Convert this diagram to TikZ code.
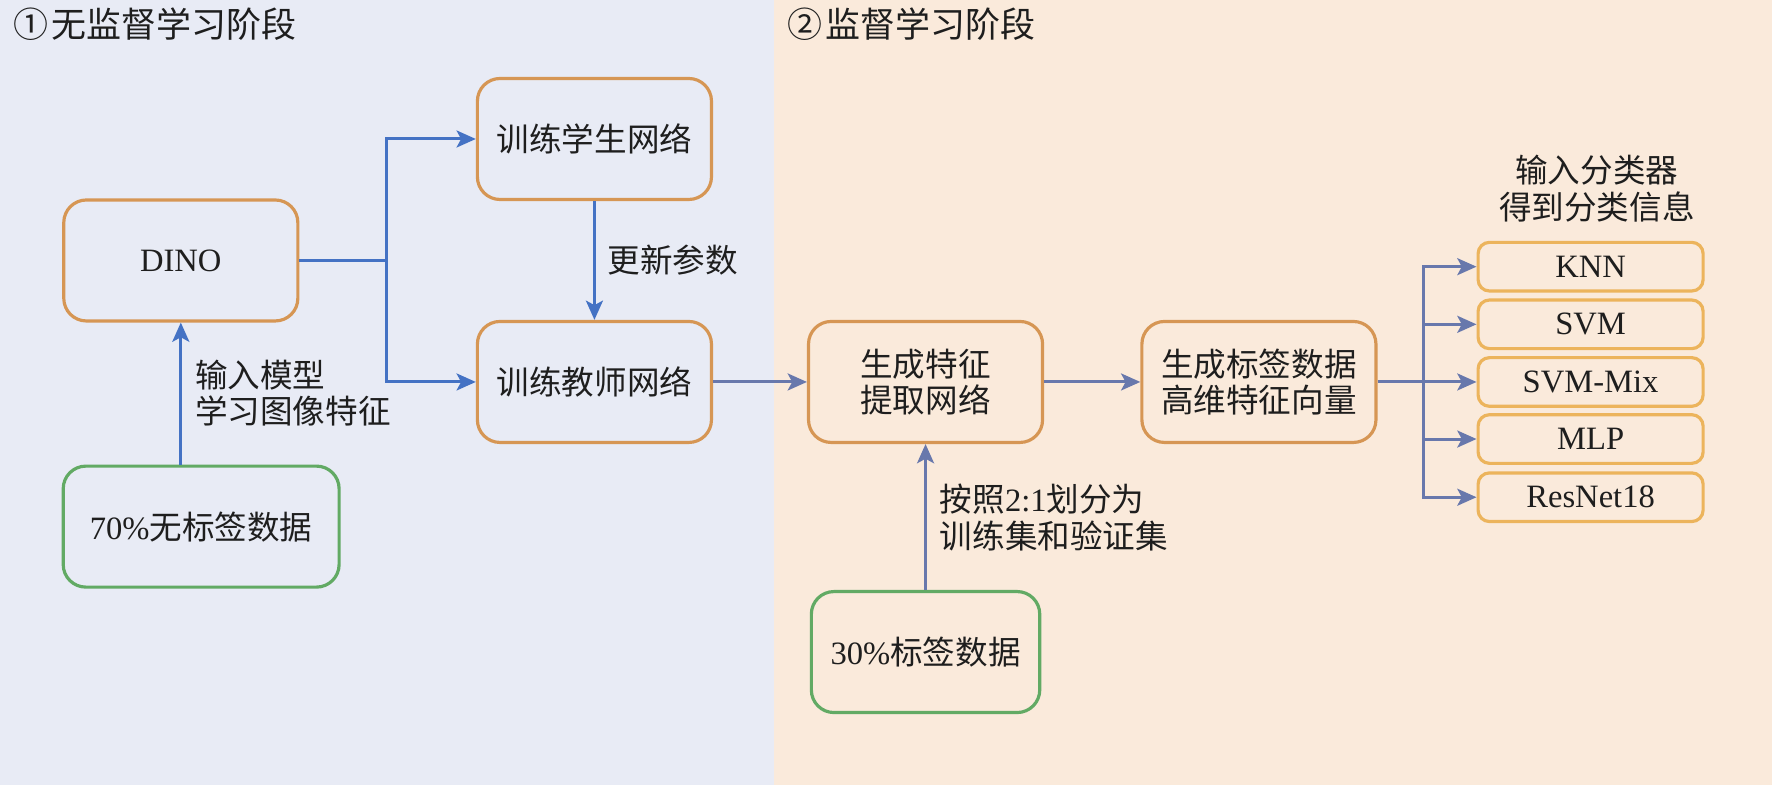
\documentclass[tikz,border=0pt]{standalone}
\usepackage{fontspec}
\usepackage{tikz}
\usetikzlibrary{arrows.meta}
\setmainfont{Liberation Serif}
\newfontfamily\cjk{Noto Sans CJK SC}
\newcommand{\zh}[1]{{\cjk #1}}

\definecolor{leftbg}{RGB}{232,235,245}
\definecolor{rightbg}{RGB}{250,234,219}
\definecolor{boxorange}{RGB}{214,150,84}
\definecolor{boxyellow}{RGB}{236,180,92}
\definecolor{boxgreen}{RGB}{98,170,100}
\definecolor{arrowblue}{RGB}{68,114,196}
\definecolor{arrowgray}{RGB}{104,120,172}
\definecolor{txt}{RGB}{30,30,30}

\begin{document}
\begin{tikzpicture}[x=0.01cm,y=-0.01cm,
    every node/.style={text=txt,font=\fontsize{8.2}{9.2}\selectfont},
    stagebox/.style={draw=boxorange,line width=0.8pt,rounded corners=0.2cm,minimum width=2.07cm,minimum height=1.07cm,align=center},
    databox/.style={stagebox,draw=boxgreen},
    clsbox/.style={draw=boxyellow,line width=0.8pt,rounded corners=0.1cm,minimum width=1.99cm,minimum height=0.43cm},
    note/.style={inner sep=0pt,align=left},
    flow/.style={draw=arrowblue,line width=0.75pt,-{Stealth[length=1.7mm,width=1.5mm,inset=0.4mm]}},
    flowgray/.style={flow,draw=arrowgray}]

 % Two stages
    \fill[leftbg] (0,0) rectangle (685,695);
    \fill[rightbg] (685,0) rectangle (1568,695);
    \node[note,anchor=west,font=\fontsize{8.8}{10}\selectfont] (stage1) at (11,21) {\zh{①\hspace{0.1em}无监督学习阶段}};
    \node[note,anchor=west,font=\fontsize{8.8}{10}\selectfont] (stage2) at (696,21) {\zh{②\hspace{0.1em}监督学习阶段}};

 % Unsupervised part
    \node[stagebox] (dino) at (160,230.5) {DINO};
    \node[stagebox] (student) at (526,123) {\zh{训练学生网络}};
    \node[stagebox] (teacher) at (526,338) {\zh{训练教师网络}};
    \node[databox,minimum width=2.44cm] (unlabeled) at (178,466) {70\%\zh{无标签数据}};
    \coordinate (split1) at (342,230.5);

    \draw[flow] (unlabeled.north -| dino) -- (dino.south);
    \node[note,anchor=west] (inputlbl) at (172,348) {\zh{输入模型}\\\zh{学习图像特征}};
    \draw[draw=arrowblue,line width=0.75pt] (dino.east) -- (split1);
    \draw[flow] (split1) |- (student.west);
    \draw[flow] (split1) |- (teacher.west);
    \draw[flow] (student) -- (teacher);
    \node[note,anchor=west] (updatelbl) at (537,230) {\zh{更新参数}};

 % Supervised part
    \node[stagebox] (extract) at (819,338) {\zh{生成特征}\\\zh{提取网络}};
    \node[stagebox] (labelgen) at (1114,338) {\zh{生成标签数据}\\\zh{高维特征向量}};
    \node[databox,minimum width=2.02cm] (labeled) at (819,577) {30\%\zh{标签数据}};
    \draw[flowgray] (teacher) -- (extract);
    \draw[flowgray] (extract) -- (labelgen);
    \draw[flowgray] (labeled) -- (extract);
    \node[note,anchor=west] (splitlbl) at (831,458) {\zh{按照}2:1\zh{划分为}\\\zh{训练集和验证集}};

 % Classifiers
    \node[align=center] (clshead) at (1413,167) {\zh{输入分类器}\\\zh{得到分类信息}};
    \coordinate (split2) at (1260,338);
    \draw[draw=arrowgray,line width=0.75pt] (labelgen.east) -- (split2);
    \foreach \cname/\clf/\cy in {knn/KNN/236,svm/SVM/287,svmmix/SVM-Mix/338,mlp/MLP/388.5,resnet/ResNet18/440} {
        \node[clsbox] (\cname) at (1407.5,\cy) {\clf};
        \draw[flowgray] (split2) |- (\cname.west);
    }

\end{tikzpicture}
\end{document}
